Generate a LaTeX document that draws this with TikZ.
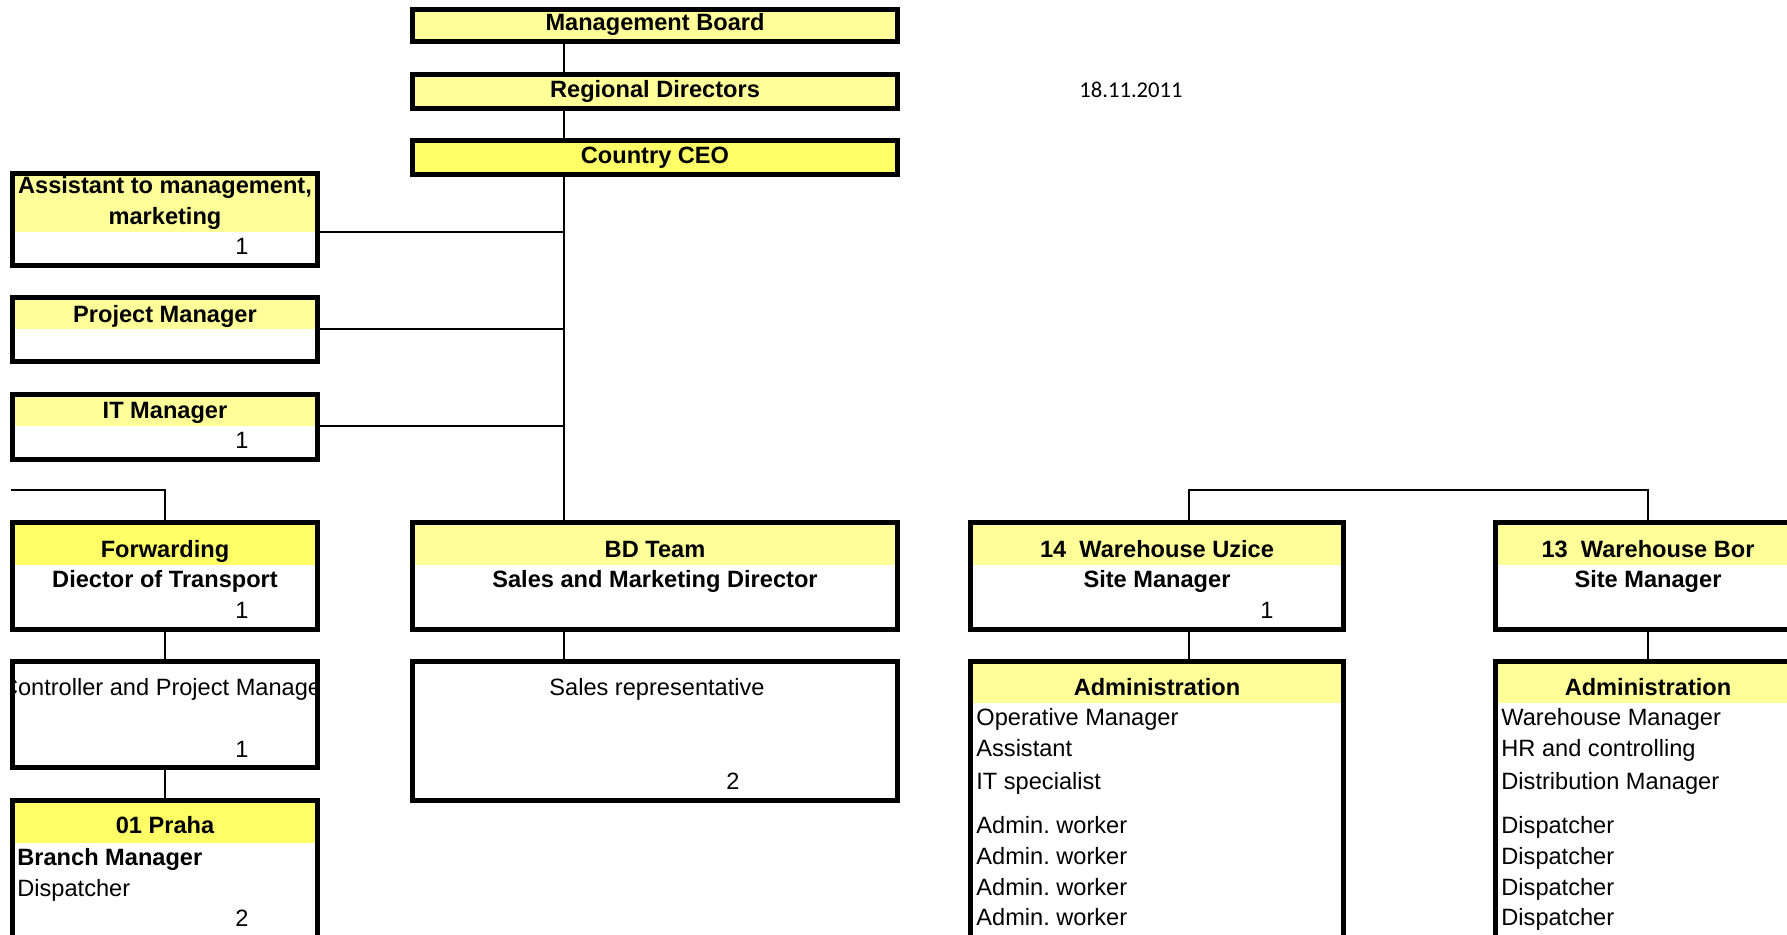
\documentclass[tikz,border=0pt]{standalone}
\usepackage{fontspec}
\setmainfont{Liberation Sans}
\newfontfamily\datefont{Carlito}
\definecolor{HeadLight}{RGB}{255, 255, 153}
\definecolor{HeadBright}{RGB}{255, 255, 102}
\usetikzlibrary{fit, positioning}

\begin{document}
\begin{tikzpicture}[x=0.5pt, y=-0.5pt,
        frame/.style={draw, line width=2.8pt, inner sep=0pt},
        boldtxt/.style={font=\fontsize{11.8}{14}\selectfont\bfseries, inner sep=0pt, text height=8.4pt, text depth=0pt},
        normtxt/.style={font=\fontsize{11.8}{14}\selectfont, inner sep=0pt, text height=8.4pt, text depth=0pt},
        link/.style={line width=1.4pt}]

        \useasboundingbox (0,0) rectangle (1787,935);

        % Top chain
        \node[frame, fill=HeadLight, fit={(412.5,9.5) (897.5,41.5)}] (board) {};
        \node[frame, fill=HeadLight, fit={(412.5,74.5) (897.5,108.5)}] (regdir) {};
        \node[frame, fill=HeadBright, fit={(412.5,140.5) (897.5,174.5)}] (ceo) {};
        \node[boldtxt] (boardt) at (655,22) {Management Board};
        \node[boldtxt] (regdirt) at (655,89) {Regional Directors};
        \node[boldtxt] (ceot) at (655,155) {Country CEO};

        % Date
        \node[font=\fontsize{11.3}{13}\datefont, inner sep=0pt] (date) at (1131,90) {18.11.2011};

        % Header fills
        \fill[HeadLight] (12.5,173.5) rectangle (317.5,232);
        \fill[HeadLight] (12.5,297.5) rectangle (317.5,329);
        \fill[HeadLight] (12.5,394.5) rectangle (317.5,426);
        \fill[HeadBright] (12.5,522.5) rectangle (317.5,565);
        \fill[HeadBright] (12.5,800.5) rectangle (317.5,843);
        \fill[HeadLight] (412.5,522.5) rectangle (897.5,565);
        \fill[HeadLight] (970.5,522.5) rectangle (1343.5,565);
        \fill[HeadLight] (970.5,661.5) rectangle (1343.5,703);
        \fill[HeadLight] (1495.5,522.5) rectangle (1800.5,565);
        \fill[HeadLight] (1495.5,661.5) rectangle (1800.5,703);

        % Boxes
        \node[frame, fit={(12.5,173.5) (317.5,265.5)}] (assist) {};
        \node[frame, fit={(12.5,297.5) (317.5,361.5)}] (projman) {};
        \node[frame, fit={(12.5,394.5) (317.5,459.5)}] (itman) {};
        \node[frame, fit={(12.5,522.5) (317.5,629.5)}] (fwd) {};
        \node[frame, fit={(12.5,661.5) (317.5,767.5)}] (ctrl) {};
        \node[frame, fit={(12.5,800.5) (317.5,960)}] (praha) {};
        \node[frame, fit={(412.5,522.5) (897.5,629.5)}] (bdteam) {};
        \node[frame, fit={(412.5,661.5) (897.5,800.5)}] (sales) {};
        \node[frame, fit={(970.5,522.5) (1343.5,629.5)}] (uzice) {};
        \node[frame, fit={(970.5,661.5) (1343.5,960)}] (adminu) {};
        \node[frame, fit={(1495.5,522.5) (1800.5,629.5)}] (bor) {};
        \node[frame, fit={(1495.5,661.5) (1800.5,960)}] (adminb) {};

        % Junctions
        \coordinate (spine) at (564,0);
        \coordinate (jassist) at (564,232);
        \coordinate (jprojman) at (564,329);
        \coordinate (jitman) at (564,426);
        \coordinate (fwdin) at (11,490);
        \coordinate (juzice) at (1189,490);
        \coordinate (jbor) at (1648,490);

        % Connectors
        \draw[link] (board.south -| spine) -- (regdir.north -| spine);
        \draw[link] (regdir.south -| spine) -- (ceo.north -| spine);
        \draw[link] (ceo.south -| spine) -- (bdteam.north -| spine);
        \draw[link] (assist.east |- jassist) -- (jassist);
        \draw[link] (projman.east |- jprojman) -- (jprojman);
        \draw[link] (itman.east |- jitman) -- (jitman);
        \draw[link] (fwdin) -| (fwd.north);
        \draw[link] (fwd) -- (ctrl);
        \draw[link] (ctrl) -- (praha);
        \draw[link] (bdteam.south -| spine) -- (sales.north -| spine);
        \draw[link] (uzice.north -| juzice) -- (juzice) -- (jbor) -- (bor.north -| jbor);
        \draw[link] (uzice.south -| juzice) -- (adminu.north -| juzice);
        \draw[link] (bor.south -| jbor) -- (adminb.north -| jbor);

        % Left column
        \node[boldtxt] (assistt1) at (165,185.5) {Assistant to management,};
        \node[boldtxt] (assistt2) at (165,216.5) {marketing};
        \node[normtxt] (assistn) at (242,246) {1};
        \node[boldtxt] (projmant) at (165,314) {Project Manager};
        \node[boldtxt] (itmant) at (165,410.5) {IT Manager};
        \node[normtxt] (itmann) at (242,440) {1};
        \node[boldtxt] (fwdt) at (165,549) {Forwarding};
        \node[boldtxt] (fwdsub) at (165,579) {Diector of Transport};
        \node[normtxt] (fwdn) at (242,610.5) {1};
        \begin{scope}
            \clip (15,664) rectangle (315,765);
            \node[normtxt] (ctrlt) at (165,687) {Controller and Project Manager};
        \end{scope}
        \node[normtxt] (ctrln) at (242,749) {1};
        \node[boldtxt] (prahat) at (165,825.5) {01 Praha};
        \node[boldtxt, anchor=west] (prahasub) at (17,857.5) {Branch Manager};
        \node[normtxt, anchor=west] (prahad) at (17,888) {Dispatcher};
        \node[normtxt] (prahan) at (242,918) {2};

        % BD Team
        \node[boldtxt] (bdt) at (655,549) {BD Team};
        \node[boldtxt] (bdsub) at (655,579) {Sales and Marketing Director};
        \node[normtxt] (salest) at (657,687) {Sales representative};
        \node[normtxt] (salesn) at (733,781.5) {2};

        % Warehouse Uzice
        \node[boldtxt] (uzicet) at (1157,549) {14\ \ Warehouse Uzice};
        \node[boldtxt] (uzicesub) at (1157,579) {Site Manager};
        \node[normtxt] (uzicen) at (1267,610.5) {1};
        \node[boldtxt] (adminut) at (1157,687) {Administration};
        \foreach \y/\t [count=\i] in {717.5/Operative Manager, 748.5/Assistant, 781.5/IT specialist,
                825.5/Admin.\ worker, 856.5/Admin.\ worker, 887.5/Admin.\ worker, 917/Admin.\ worker}
            \node[normtxt, anchor=west] (ulist\i) at (976,\y) {\t};

        % Warehouse Bor
        \node[boldtxt] (bort) at (1648,549) {13\ \ Warehouse Bor};
        \node[boldtxt] (borsub) at (1648,579) {Site Manager};
        \node[boldtxt] (adminbt) at (1648,687) {Administration};
        \foreach \y/\t [count=\i] in {717.5/Warehouse Manager, 748.5/HR and controlling, 781.5/Distribution Manager,
                825.5/Dispatcher, 856.5/Dispatcher, 887.5/Dispatcher, 917/Dispatcher}
            \node[normtxt, anchor=west] (blist\i) at (1501,\y) {\t};

    \end{tikzpicture}
\end{document}
